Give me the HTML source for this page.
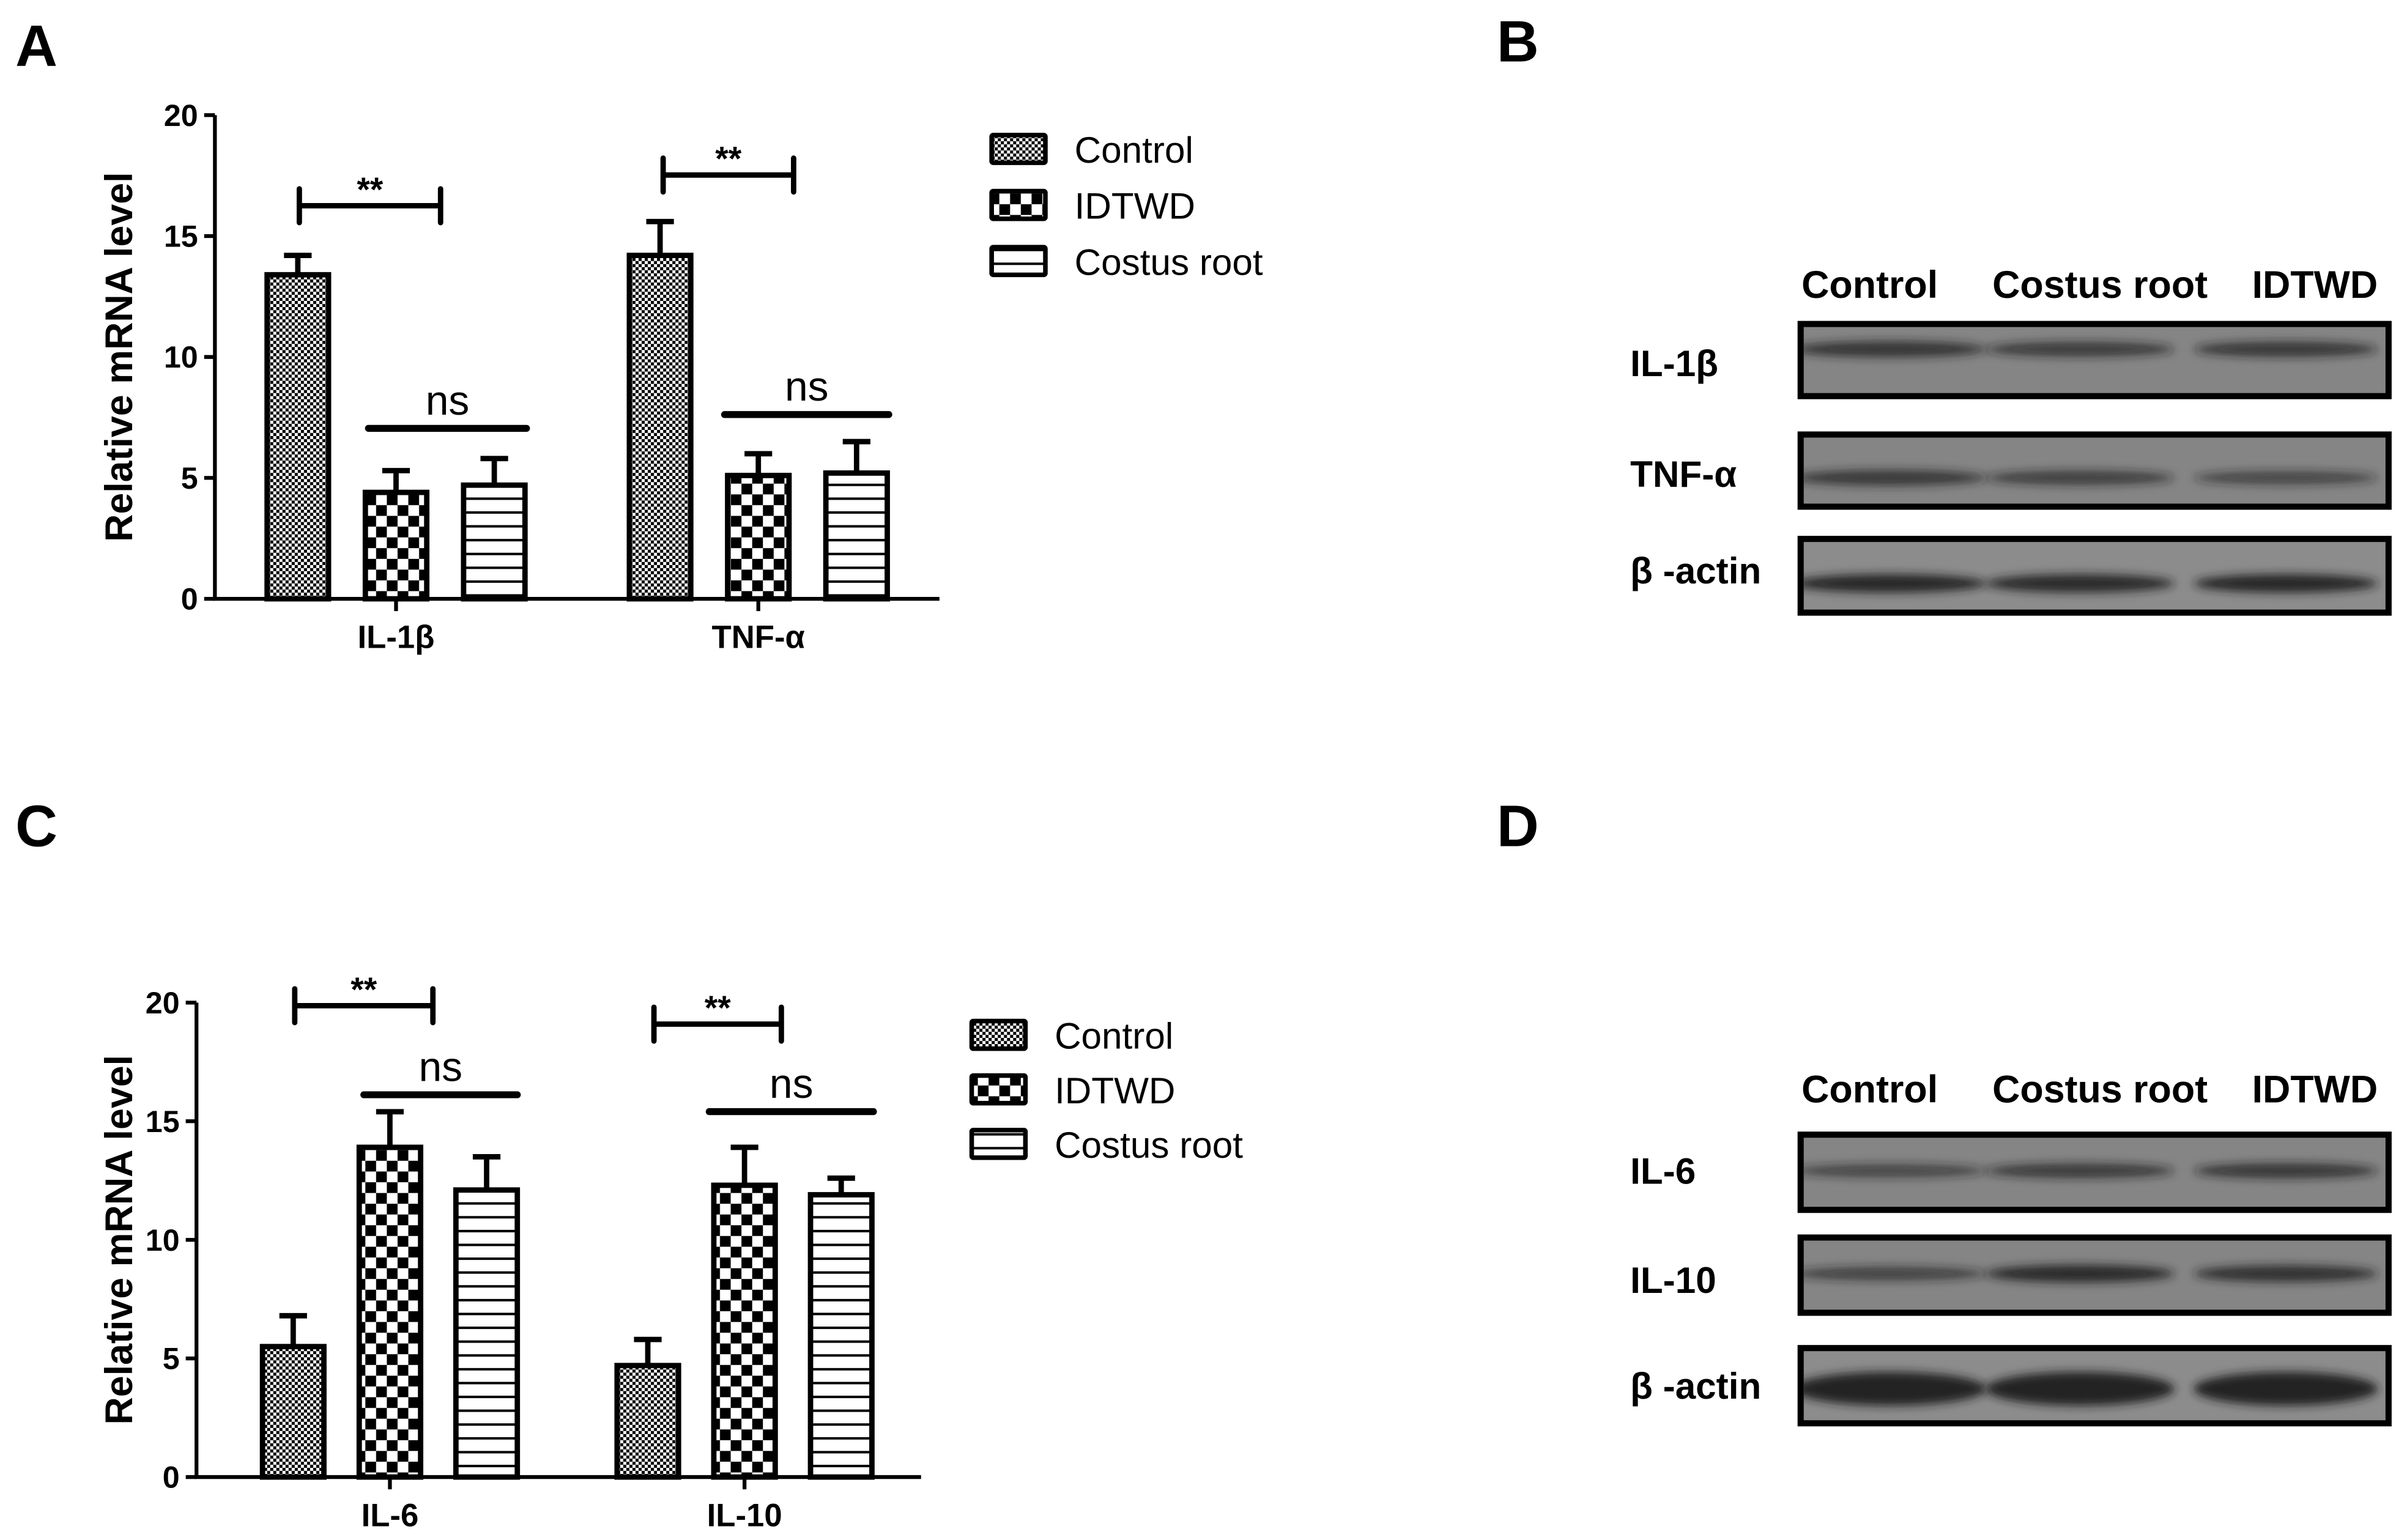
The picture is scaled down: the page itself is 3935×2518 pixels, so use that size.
<!DOCTYPE html>
<html><head><meta charset="utf-8"><style>
html,body{margin:0;padding:0;background:#fff;width:3935px;height:2518px;overflow:hidden}
svg{display:block}
text{font-family:"Liberation Sans Narrow","Liberation Sans",sans-serif}
</style></head><body>
<svg id="fig" width="3935" height="2518" viewBox="0 0 1568 1003" preserveAspectRatio="none" xmlns="http://www.w3.org/2000/svg">
<defs>
<pattern id="pCtrl" width="4" height="4" patternUnits="userSpaceOnUse"><rect width="4" height="4" fill="#fff"/><rect width="2" height="2" fill="#000"/><rect x="2" y="2" width="2" height="2" fill="#000"/></pattern>
<pattern id="pIdt" width="14" height="14" patternUnits="userSpaceOnUse"><rect width="14" height="14" fill="#fff"/><rect width="7" height="7" fill="#000"/><rect x="7" y="7" width="7" height="7" fill="#000"/></pattern>
<pattern id="pCos" width="8" height="9" patternUnits="userSpaceOnUse"><rect width="8" height="9" fill="#fff"/><rect y="0" width="8" height="1.6" fill="#000"/></pattern>
<filter id="blur" x="-20%" y="-100%" width="140%" height="300%"><feGaussianBlur stdDeviation="3"/></filter>
<clipPath id="clipB"><rect x="1175" y="0" width="379" height="1003"/></clipPath>
</defs>
<g id="root"></g>
</svg>
<script>
const categoriesA = ["IL-1β","TNF-α"];
const controlA = [13.4, 14.2];
const idtwdA = [4.4, 5.1];
const costusA = [4.7, 5.2];
const controlErrA = [14.2, 15.6];
const idtwdErrA = [5.3, 6.0];
const costusErrA = [5.8, 6.5];
const categoriesC = ["IL-6","IL-10"];
const controlC = [5.5, 4.7];
const idtwdC = [13.9, 12.3];
const costusC = [12.1, 11.9];
const controlErrC = [6.8, 5.8];
const idtwdErrC = [15.4, 13.9];
const costusErrC = [13.5, 12.6];
const yTicks = [0,5,10,15,20];
const seriesNames = ["Control","IDTWD","Costus root"];
const lanesB = ["Control","Costus root","IDTWD"];
const rowsB = ["IL-1β","TNF-α","β -actin"];
const rowsD = ["IL-6","IL-10","β -actin"];
const bandB = [[0.75,0.6,0.65],[0.7,0.55,0.45],[0.95,0.9,0.95]];
const bandD = [[0.45,0.6,0.65],[0.5,0.9,0.8],[1,1,1]];

const NS="http://www.w3.org/2000/svg";
const root=document.getElementById('root');
function el(tag,attrs,parent){const e=document.createElementNS(NS,tag);for(const k in attrs)e.setAttribute(k,attrs[k]);(parent||root).appendChild(e);return e;}
function txt(s,attrs,parent){const e=el('text',attrs,parent);e.textContent=s;return e;}
const fills=["url(#pCtrl)","url(#pIdt)","url(#pCos)"];

function chart(cfg){
  const g=el('g',{});
  
  
  const y=v=>cfg.y0+(cfg.y20-cfg.y0)*v/20;
  const ax=el('path',{d:`M${cfg.ax} ${cfg.y20} V${cfg.y0} H${cfg.axEnd}`,stroke:'#000','stroke-width':2.5,fill:'none'},g);
  
  
  yTicks.forEach(t=>{
    const l=el('line',{x1:cfg.ax-7,x2:cfg.ax,y1:y(t),y2:y(t),stroke:'#000','stroke-width':2.5},g);
    
    
    const tt=txt(String(t),{x:cfg.ax-11,y:y(t)+7,'text-anchor':'end','font-size':20,'font-weight':'bold'},g);
    
    
  });
  const yt=txt("Relative mRNA level",{transform:`translate(${cfg.ytx},${(cfg.y0+cfg.y20)/2}) rotate(-90)`,'text-anchor':'middle','font-size':25,'font-weight':'bold','font-family':'Liberation Sans, sans-serif'},g);
  
  
  const series=[cfg.ctrl,cfg.idt,cfg.cos], errs=[cfg.ctrlE,cfg.idtE,cfg.cosE];
  cfg.cats.forEach((c,i)=>{
    const cx=cfg.catX[i];
    const tk=el('line',{x1:cx,x2:cx,y1:cfg.y0,y2:cfg.y0+8,stroke:'#000','stroke-width':2.5},g);
    
    
    const cl=txt(c,{x:cx,y:cfg.y0+32,'text-anchor':'middle','font-size':21,'font-weight':'bold'},g);
    
    
    for(let s=0;s<3;s++){
      const bx=cx+(s-1)*cfg.step, w=40;
      const eb=el('path',{d:`M${bx} ${y(series[s][i])} V${y(errs[s][i])} M${bx-9} ${y(errs[s][i])} H${bx+9}`,stroke:'#000','stroke-width':3.5,fill:'none'},g);
      
      
      const r=el('rect',{x:bx-w/2,y:y(series[s][i]),width:w,height:y(0)-y(series[s][i]),fill:fills[s],stroke:'#000','stroke-width':3.5},g);
      
      
    }
  });
  cfg.sig.forEach(s=>{
    const p=el('path',{d:s.bracket?`M${s.x1} ${s.y+11} V${s.y-11} M${s.x1} ${s.y} H${s.x2} M${s.x2} ${s.y+11} V${s.y-11}`:`M${s.x1} ${s.y} H${s.x2}`,stroke:'#000','stroke-width':s.bracket?3.5:4.5,fill:'none','stroke-linecap':'round'},g);
    
    
    const t=txt(s.t,{x:(s.x1+s.x2)/2,y:s.bracket?s.y-3:s.y-9,'text-anchor':'middle','font-size':s.bracket?22:27,'font-weight':s.bracket?'bold':'normal'},g);
    
    
  });
  seriesNames.forEach((n,i)=>{
    const ly=cfg.legY+i*cfg.legStep;
    const b=el('rect',{x:cfg.legX,y:ly-9,width:35,height:18,fill:fills[i],stroke:'#000','stroke-width':3,rx:1},g);
    
    
    const t=txt(n,{x:cfg.legX+54,y:ly+9,'font-size':24},g);
    
    
  });
}
chart({name:'chart-a',ax:140,axEnd:612,y0:390,y20:75,ytx:86,cats:categoriesA,catX:[258,494],step:64,
  ctrl:controlA,idt:idtwdA,cos:costusA,ctrlE:controlErrA,idtE:idtwdErrA,cosE:costusErrA,
  sig:[{x1:195,x2:287,y:134,t:'**',bracket:true},{x1:240,x2:343,y:279,t:'ns'},{x1:432,x2:517,y:114,t:'**',bracket:true},{x1:472,x2:579,y:270,t:'ns'}],
  legX:646,legY:97,legStep:36.5});
chart({name:'chart-c',ax:128,axEnd:600,y0:962,y20:653,ytx:86,cats:categoriesC,catX:[254,485],step:63,
  ctrl:controlC,idt:idtwdC,cos:costusC,ctrlE:controlErrC,idtE:idtwdErrC,cosE:costusErrC,
  sig:[{x1:192,x2:282,y:655,t:'**',bracket:true},{x1:237,x2:337,y:713,t:'ns'},{x1:426,x2:509,y:667,t:'**',bracket:true},{x1:462,x2:569,y:724,t:'ns'}],
  legX:633,legY:674,legStep:35.5});

function blot(cfg){
  const g=el('g',{});
  
  
  const laneX=[1218,1368,1508];
  lanesB.forEach((l,i)=>{
    const t=txt(l,{x:laneX[i],y:cfg.labY,'text-anchor':'middle','font-size':25,'font-weight':'bold'},g);
    
    
  });
  cfg.rows.forEach((r,k)=>{
    const [y1,y2]=cfg.boxes[k];
    const box=el('rect',{x:1173,y:y1,width:383,height:y2-y1,fill:k==2?'#8c8c8c':'#858585',stroke:'#000','stroke-width':4},g);
    
    
    const bg=el('g',{'clip-path':'url(#clipB)'},g);
    const bandW=[118,115,112];
    const cxs=[1231,1355,1489];
    for(let i=0;i<3;i++){
      const v=cfg.bands[k][i];
      const thick=k==2?(cfg.name==='blot-d'?22:12):6+6*v;
      const by=k==2?(cfg.name==='blot-d'?(y1+y2)/2+2:y2-19):(cfg.name==='blot-d'?y1+(y2-y1)*0.48:(k==0?y1+(y2-y1)*0.35:y1+(y2-y1)*0.6));
      const e=el('ellipse',{cx:cxs[i],cy:by,rx:bandW[i]/2+4,ry:thick/2,fill:'#1e1e1e','fill-opacity':0.35+0.6*v,filter:'url(#blur)'},bg);
      
      
    }
    const t=txt(r,{x:1062,y:cfg.rowY[k],'font-size':24,'font-weight':'bold'},g);
    
    
  });
}
blot({name:'blot-b',labY:194,rows:rowsB,bands:bandB,boxes:[[211,258],[283,330],[351,399]],rowY:[245,317,380]});
blot({name:'blot-d',labY:718,rows:rowsD,bands:bandD,boxes:[[739,788],[806,855],[878,927]],rowY:[771,842,911]});

[["A",10,43],["B",975,40],["C",10,551],["D",975,551]].forEach(p=>{
  const t=txt(p[0],{x:p[1],y:p[2],'font-size':38,'font-weight':'bold','font-family':'Liberation Sans, sans-serif'});
  
  
});
</script>
</body></html>
